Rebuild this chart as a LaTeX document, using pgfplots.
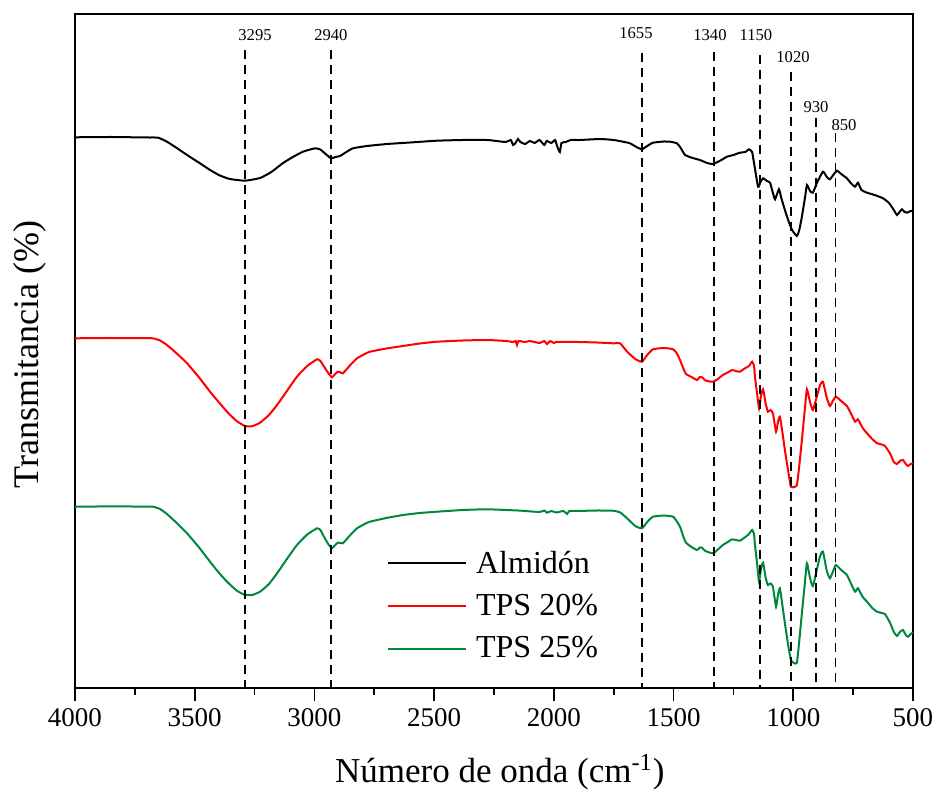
\documentclass[border=0pt]{standalone}
\usepackage{pgfplots}
\pgfplotsset{compat=1.18}
\usepackage{fontspec}
\setmainfont{Liberation Serif}
\newfontfamily\tickfont{Liberation Serif}
\definecolor{tpsgreen}{RGB}{0,135,62}
\definecolor{tpsred}{RGB}{255,0,0}
\begin{document}
\begin{tikzpicture}
\useasboundingbox (-37.5pt,-52.5pt) rectangle (430.5pt,344pt);
\begin{axis}[
  scale only axis, width=419pt, height=337pt,
  at={(0,0)}, anchor=south west,
  xmin=500, xmax=4000, x dir=reverse,
  ymin=0, ymax=674,
  xtick={500,1000,1500,2000,2500,3000,3500,4000},
  xticklabels={500,1000,1500,2000,2500,3000,3500,4000},
  minor x tick num=1,
  xtick pos=left, ytick=\empty,
  tick align=outside,
  major tick length=6.5pt, minor tick length=3.5pt,
  every tick/.style={black, line width=0.8pt},
  axis line style={line width=1pt},
  xticklabel style={font=\tickfont\fontsize{13.5}{16}\selectfont},
  xlabel={Número de onda (cm\textsuperscript{-1})},
  ylabel={Transmitancia (\%)},
  xlabel style={at={(axis description cs:0.507,-0.1246)}, anchor=center, font=\fontsize{17.5}{20}\selectfont},
  ylabel style={at={(axis description cs:-0.0537,0.495)}, anchor=center, rotate=0, font=\fontsize{18}{20}\selectfont},
  legend style={draw=none, fill=none, at={(axis description cs:0.372,0.122)}, anchor=west,
    font=\fontsize{16}{19}\selectfont, row sep=5pt, inner sep=0pt},
  legend cell align=left,
  legend image code/.code={\draw[#1, line width=1pt] (0pt,0pt) -- (39pt,0pt); \path (41.5pt,0pt);},
  clip=false,
]
% --- Almidon
\addplot[black, line width=1pt, smooth, tension=0.3] coordinates {
(4000,550.7)(3850,551)(3700,550.5)(3653,550.3)(3616,546.3)(3575,540)(3532,533)(3480,525)(3436,518)(3395,512.5)(3353,509)(3290,507.3)(3227,510)(3180,516)(3131,525)(3090,531)(3048,536.3)(2998,539.7)(2975,538.5)(2958,535)(2931,529.7)(2912,531)(2893,532)(2870,535.5)(2839,539.7)(2780,542)(2697,544)(2600,545.5)(2488,547.3)(2380,548)(2279,548)(2240,547)(2200,546)(2180,548)(2170,543)(2160,545)(2150,549)(2140,546)(2120,544)(2100,547)(2080,545)(2060,548)(2040,543)(2030,547)(2010,545)(1995,548)(1985,541)(1975,536)(1968,545)(1950,546)(1930,548)(1891,548)(1807,549)(1750,548)(1711,546.3)(1682,544.7)(1655,541)(1632,538.7)(1610,542)(1586,545.3)(1540,546.5)(1515,546.3)(1486,544.7)(1470,540)(1452,533)(1420,530)(1390,528)(1360,525)(1335,524)(1300,528)(1277,531.3)(1250,533)(1223,535.3)(1200,536)(1185,538.7)(1172,536)(1164,525)(1147,501.3)(1137,506)(1126,509.7)(1110,507)(1097,505.3)(1085,495)(1076,488.7)(1060,498.7)(1050,490)(1035,478)(1020,467)(1005,458)(985,452)(975,458)(964,471.3)(950,492)(943,503)(930,497)(918,495.3)(901,505.3)(876,516.3)(860,511)(847,508.7)(830,514)(817,517.3)(800,514)(776,509.7)(760,505)(742,501.3)(730,505.3)(715,498)(692,495.3)(660,493)(625,489.7)(600,485)(580,478)(567,473)(556,476)(546,478.7)(535,476)(525,475.3)(510,477)(500,477.3)
};
\addlegendentry{Almidón}
% --- TPS 20%
\addplot[tpsred, line width=1pt, smooth, tension=0.3] coordinates {
(4000,349.7)(3850,350)(3700,349.8)(3674,349.7)(3645,347.5)(3616,343)(3575,334.5)(3532,324.7)(3480,310)(3436,296.3)(3400,286)(3365,276.3)(3325,267)(3290,262)(3260,261.8)(3227,265.3)(3190,273)(3156,283)(3115,297)(3073,311.3)(3030,322)(2989,328.7)(2975,327)(2964,323)(2945,316)(2927,310.7)(2913,314)(2902,316.3)(2890,315.5)(2881,314.7)(2850,323)(2822,329.7)(2790,334)(2768,336.3)(2700,339.5)(2630,342)(2560,344.5)(2488,346.3)(2380,347.5)(2279,348)(2200,347)(2170,346)(2160,347)(2154,343)(2148,347)(2120,346)(2100,347)(2060,345)(2040,347)(2029,344)(2015,347)(2000,345)(1990,346)(1900,346)(1820,345.5)(1753,344.7)(1724,344.7)(1710,341)(1694,336.3)(1660,329)(1632,326.3)(1610,333)(1586,338.7)(1540,340)(1502,338.7)(1485,334)(1473,328)(1460,320)(1448,314)(1425,311)(1402,308)(1390,311)(1381,310.7)(1370,308)(1360,307)(1335,306.3)(1315,309)(1294,313)(1270,316)(1256,318)(1240,317)(1223,316.3)(1202,319.7)(1185,322)(1172,326.3)(1164,322)(1160,311.3)(1150,292)(1143,279.7)(1135,292)(1126,298.7)(1115,284)(1106,276.3)(1095,278)(1085,274.7)(1072,256.3)(1064,266)(1056,271.3)(1045,255)(1035,238)(1022,218)(1010,201.3)(997,201)(985,203)(975,222)(964,248)(952,278)(943,298.7)(930,286)(918,278)(900,293)(888,303)(876,306.3)(860,290)(847,282)(835,287)(822,291.3)(800,287)(776,282)(760,275)(742,266.3)(730,268.7)(710,260)(692,254.7)(670,249)(650,244.7)(630,243.5)(617,242)(596,234.7)(580,226)(567,224)(555,227)(542,228)(530,224)(521,222)(510,224)(500,224.7)
};
\addlegendentry{TPS 20\%}
% --- TPS 25%
\addplot[tpsgreen, line width=1pt, smooth, tension=0.3] coordinates {
(4000,181.3)(3850,181.6)(3700,181.4)(3674,181.3)(3645,179)(3616,174)(3575,165)(3532,154.7)(3480,140)(3436,126.3)(3400,115.5)(3365,106.3)(3325,97.5)(3290,93)(3260,93)(3227,96.3)(3190,104)(3156,114.7)(3115,129)(3073,143)(3030,153.5)(2989,159.7)(2975,158)(2964,153)(2945,145)(2927,139.7)(2913,143)(2902,145.3)(2890,145)(2881,144.7)(2850,153)(2822,159.7)(2790,164)(2768,166.3)(2700,170)(2630,173)(2560,175)(2488,176.3)(2380,178)(2279,178.7)(2150,177.5)(2060,176)(2040,177.5)(2029,175.3)(2010,177)(1990,175.5)(1960,177)(1945,174)(1935,177)(1900,177)(1820,177.5)(1753,177.3)(1724,175.7)(1710,173)(1694,169.7)(1660,162)(1632,159.7)(1610,166)(1586,171.3)(1540,172.5)(1502,171.3)(1485,166)(1473,161.3)(1460,152)(1448,145.3)(1425,141)(1402,138)(1390,140.5)(1381,140.3)(1370,137.5)(1360,136.3)(1335,134.7)(1315,138.5)(1294,143)(1270,146.5)(1256,148.7)(1240,148)(1223,147.3)(1202,150.7)(1185,154)(1172,158)(1164,154)(1160,143)(1150,122)(1143,106.3)(1135,119)(1126,125.3)(1115,110)(1106,103)(1095,104.5)(1085,101.3)(1072,81.3)(1064,93)(1056,99.7)(1045,82)(1035,64.7)(1022,44)(1010,28)(997,25)(985,25.3)(975,47)(964,74.7)(952,104)(943,124.7)(930,110)(918,102)(900,120)(888,132)(876,136.3)(860,117)(847,109.7)(835,116)(822,123)(800,118)(776,113)(760,105)(742,96.3)(730,99.7)(710,91)(692,86.3)(670,80)(650,76.3)(630,75)(617,74)(596,65.3)(580,56)(567,52)(555,56)(542,58)(530,53)(521,51.3)(510,54)(500,55.3)
};
\addlegendentry{TPS 25\%}
% --- dashed reference lines
\addplot[black, line width=0.75pt, dash pattern=on 4.5pt off 3pt, forget plot] coordinates {(3290,638)(3290,0)};
\addplot[black, line width=0.75pt, dash pattern=on 4.5pt off 3pt, forget plot] coordinates {(2931,638)(2931,0)};
\addplot[black, line width=0.75pt, dash pattern=on 4.5pt off 3pt, forget plot] coordinates {(1632,635)(1632,0)};
\addplot[black, line width=0.75pt, dash pattern=on 4.5pt off 3pt, forget plot] coordinates {(1331,636)(1331,0)};
\addplot[black, line width=0.75pt, dash pattern=on 4.5pt off 3pt, forget plot] coordinates {(1139,633)(1139,0)};
\addplot[black, line width=0.75pt, dash pattern=on 4.5pt off 3pt, forget plot] coordinates {(1009,616)(1009,0)};
\addplot[black, line width=0.75pt, dash pattern=on 4.5pt off 3pt, forget plot] coordinates {(906,570)(906,0)};
\addplot[black, line width=0.75pt, dash pattern=on 4.5pt off 3pt, forget plot] coordinates {(824,555)(824,0)};
% --- peak labels
\begin{scope}[every node/.style={font=\fontsize{8.3}{10}\selectfont, inner sep=0pt, anchor=center}]
\node at (axis cs:3248,653) {3295};
\node at (axis cs:2931,653) {2940};
\node at (axis cs:1657,655) {1655};
\node at (axis cs:1348,653) {1340};
\node at (axis cs:1156,653) {1150};
\node at (axis cs:1001,631) {1020};
\node at (axis cs:905,581) {930};
\node at (axis cs:788,563) {850};
\end{scope}
\end{axis}
\end{tikzpicture}
\end{document}
